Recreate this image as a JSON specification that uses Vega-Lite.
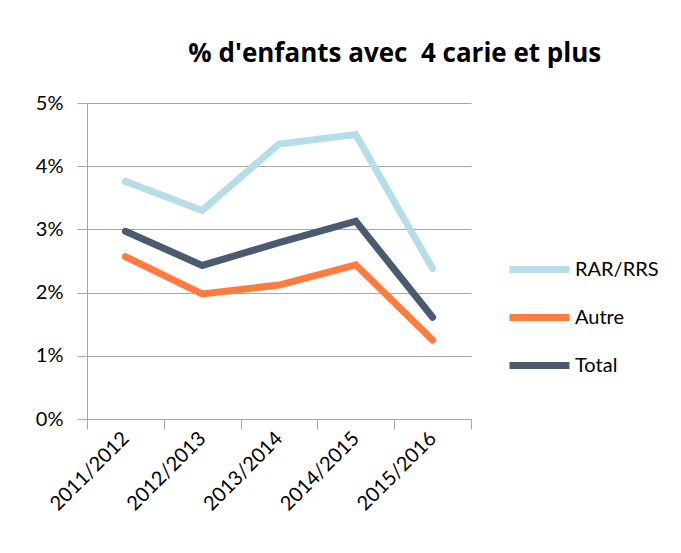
{
  "$schema": "https://vega.github.io/schema/vega-lite/v6.json",
  "width": 384,
  "height": 316,
  "padding": {"left": 35, "top": 41, "right": 5, "bottom": 5},
  "background": "white",
  "config": {
    "view": {"stroke": null},
    "font": "Lato"
  },
  "title": {
    "text": "% d'enfants avec\u00a0\u00a04 carie et plus",
    "font": "Open Sans",
    "fontSize": 26,
    "fontWeight": "bold",
    "color": "#000000",
    "anchor": "start",
    "dx": 153,
    "offset": 26
  },
  "data": {
    "values": [
      {"annee": "2011/2012", "serie": "RAR/RRS", "valeur": 0.0376},
      {"annee": "2012/2013", "serie": "RAR/RRS", "valeur": 0.0330},
      {"annee": "2013/2014", "serie": "RAR/RRS", "valeur": 0.0435},
      {"annee": "2014/2015", "serie": "RAR/RRS", "valeur": 0.0450},
      {"annee": "2015/2016", "serie": "RAR/RRS", "valeur": 0.0238},
      {"annee": "2011/2012", "serie": "Autre", "valeur": 0.0257},
      {"annee": "2012/2013", "serie": "Autre", "valeur": 0.0198},
      {"annee": "2013/2014", "serie": "Autre", "valeur": 0.0212},
      {"annee": "2014/2015", "serie": "Autre", "valeur": 0.0244},
      {"annee": "2015/2016", "serie": "Autre", "valeur": 0.0125},
      {"annee": "2011/2012", "serie": "Total", "valeur": 0.0297},
      {"annee": "2012/2013", "serie": "Total", "valeur": 0.0243},
      {"annee": "2013/2014", "serie": "Total", "valeur": 0.0279},
      {"annee": "2014/2015", "serie": "Total", "valeur": 0.0313},
      {"annee": "2015/2016", "serie": "Total", "valeur": 0.0161}
    ]
  },
  "mark": {"type": "line", "strokeWidth": 7, "strokeCap": "round", "strokeJoin": "miter"},
  "encoding": {
    "x": {
      "field": "annee",
      "type": "nominal",
      "sort": null,
      "title": null,
      "scale": {"type": "band", "paddingInner": 0, "paddingOuter": 0},
      "axis": {
        "labelAngle": -45,
        "labelAlign": "right",
        "labelBaseline": "middle",
        "labelFont": "Lato",
        "labelFontSize": 20,
        "labelColor": "#000000",
        "labelPadding": 6,
        "tickBand": "extent",
        "ticks": true,
        "tickSize": 10,
        "tickColor": "#a6a6a6",
        "domainColor": "#a6a6a6",
        "grid": false
      }
    },
    "y": {
      "field": "valeur",
      "type": "quantitative",
      "title": null,
      "scale": {"domain": [0, 0.05]},
      "axis": {
        "format": ".0%",
        "values": [0, 0.01, 0.02, 0.03, 0.04, 0.05],
        "labelFont": "Lato",
        "labelFontSize": 20,
        "labelColor": "#000000",
        "labelPadding": 14,
        "tickSize": 10,
        "tickColor": "#a6a6a6",
        "domainColor": "#a6a6a6",
        "grid": true,
        "gridColor": "#a6a6a6"
      }
    },
    "color": {
      "field": "serie",
      "type": "nominal",
      "sort": ["RAR/RRS", "Autre", "Total"],
      "scale": {"domain": ["RAR/RRS", "Autre", "Total"], "range": ["#b7dde8", "#ff7b40", "#4a5b70"]},
      "legend": {
        "title": null,
        "orient": "none",
        "legendX": 419,
        "legendY": 133,
        "symbolType": "stroke",
        "symbolSize": 3600,
        "symbolStrokeWidth": 7,
        "labelFont": "Lato",
        "labelFontSize": 20,
        "labelColor": "#000000",
        "labelOffset": 2,
        "rowPadding": -8
      }
    }
  }
}
